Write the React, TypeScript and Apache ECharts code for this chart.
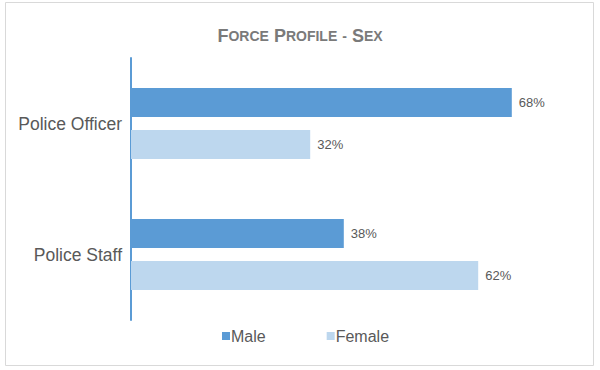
import React, { useEffect, useRef } from "react";
import * as echarts from "echarts";

const categories = ["Police Officer", "Police Staff"];
const maleValues = [0.68, 0.38];
const femaleValues = [0.32, 0.62];
const seriesNames = ["Male", "Female"];

const FONT = "Arial";

export default function App() {
  const ref = useRef<HTMLDivElement>(null);
  useEffect(() => {
    if (!ref.current) return;
    const chart = echarts.init(ref.current, null, { renderer: "svg" });
    const label = {
      show: true,
      position: "right",
      distance: 7,
      color: "#595959",
      fontSize: 13,
      fontFamily: FONT,
      formatter: (p: any) => Math.round(p.value * 100) + "%",
    };
    chart.setOption({
      animation: false,
      backgroundColor: "#ffffff",
      graphic: [
        {
          type: "rect",
          shape: { x: 5.5, y: 2.5, width: 588, height: 363 },
          style: { fill: "none", stroke: "#d9d9d9", lineWidth: 1 },
          silent: true,
          z: -1,
        },
      ],
      title: {
        text: "{b|F}{s|ORCE} {b|P}{s|ROFILE} {s|-} {b|S}{s|EX}",
        left: "center",
        top: 22,
        textStyle: {
          rich: {
            b: { fontSize: 18, fontWeight: "bold", color: "#7a7a7a", fontFamily: FONT },
            s: { fontSize: 14, fontWeight: "bold", color: "#7a7a7a", fontFamily: FONT },
          },
        },
      },
      legend: {
        data: seriesNames,
        bottom: 21,
        left: 217,
        itemWidth: 8,
        itemHeight: 8,
        itemGap: 61,
        icon: "rect",
        textStyle: { color: "#595959", fontSize: 16, fontFamily: FONT, padding: [0, 0, 0, -4] },
      },
      grid: { left: 131, right: 21, top: 58, bottom: 50, containLabel: false },
      xAxis: {
        type: "value",
        min: 0,
        max: 0.8,
        axisLabel: { show: false },
        splitLine: { show: false },
        axisLine: { show: false },
        axisTick: { show: false },
      },
      yAxis: {
        type: "category",
        data: categories,
        inverse: true,
        axisLine: { show: true, lineStyle: { color: "#5b9bd5", width: 2 } },
        axisTick: { show: false },
        axisLabel: {
          color: "#595959",
          fontSize: 17.5,
          margin: 9,
          fontFamily: FONT,
        },
      },
      series: [
        {
          name: seriesNames[0],
          type: "bar",
          data: maleValues,
          barWidth: 29,
          barGap: "45%",
          itemStyle: { color: "#5b9bd5" },
          label,
        },
        {
          name: seriesNames[1],
          type: "bar",
          data: femaleValues,
          barWidth: 29,
          itemStyle: { color: "#bdd7ee" },
          label,
        },
      ],
    });
    return () => chart.dispose();
  }, []);
  return (
    <div
      ref={ref}
      style={{ position: "fixed", left: 0, top: 0, width: 600, height: 370 }}
    />
  );
}
